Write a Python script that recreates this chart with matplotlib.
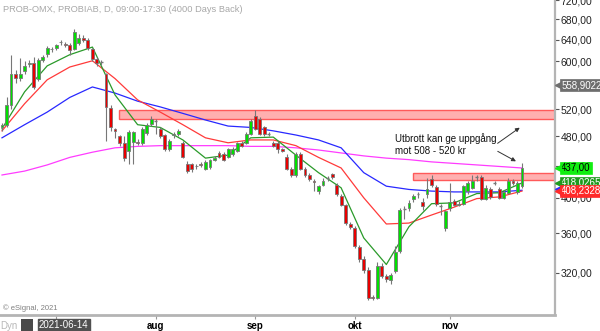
import matplotlib
matplotlib.use("Agg")
import matplotlib.pyplot as plt
from matplotlib.patches import Rectangle
from matplotlib.transforms import blended_transform_factory

plt.rcParams['font.family'] = ['Liberation Sans', 'DejaVu Sans']

# ---------------- data ----------------
opens = [494, 496, 527, 577, 571, 583, 596, 597, 570, 602, 613, 622, 624, 635, 632, 629, 622,
         634, 644, 640, 622, 604, 598, 577, 522, 490, 480, 471, 460, 472, 472, 471, 485, 498,
         503, 490, 482, 463, 482, 484, 471, 442, 442, 440, 442, 436, 438, 448, 457, 455, 452,
         455, 460, 471, 471, 484, 510, 506, 493, 484, 471, 471, 462, 452, 436, 428, 456, 436,
         428, 420, 408, 416, 424, 429, 416, 402, 392, 370, 366, 346, 333, 323, 298, 297, 327,
         317, 313, 322, 341, 387, 388, 398, 404, 395, 405, 423, 413, 390, 366, 388, 396, 392,
         393, 408, 412, 425, 426, 399, 411, 418, 410, 400, 406, 421, 407, 414]
highs = [500, 540, 611, 585, 606, 600, 602, 607, 606, 612, 628, 627, 632, 640, 636, 633, 660,
         650, 648, 643, 625, 607, 602, 580, 527, 492, 482, 481, 489, 488, 476, 494, 500, 510,
         506, 493, 484, 476, 487, 491, 474, 446, 444, 442, 445, 447, 449, 453, 459, 458, 464,
         465, 472, 474, 486, 505, 519, 508, 495, 487, 474, 473, 464, 455, 438, 458, 458, 438,
         430, 423, 416, 424, 427, 431, 418, 404, 393, 372, 368, 348, 336, 326, 300, 330, 329,
         319, 320, 347, 388, 390, 397, 405, 407, 400, 424, 428, 416, 393, 386, 418, 398, 396,
         416, 420, 428, 428, 428, 415, 413, 421, 413, 409, 424, 423, 420, 444]
lows = [488, 493, 520, 563, 566, 578, 590, 553, 566, 598, 607, 617, 620, 630, 626, 612, 620,
        630, 636, 620, 600, 592, 594, 474, 488, 478, 467, 446, 442, 442, 468, 468, 482, 495,
        484, 478, 460, 460, 478, 480, 450, 430, 432, 436, 438, 434, 436, 446, 450, 446, 450,
        453, 458, 465, 469, 482, 489, 482, 480, 480, 465, 457, 458, 434, 426, 426, 434, 425,
        421, 408, 404, 414, 421, 423, 402, 390, 369, 364, 345, 330, 320, 295, 295, 296, 315,
        311, 310, 320, 339, 375, 385, 395, 400, 386, 400, 413, 390, 380, 362, 385, 390, 390,
        391, 405, 410, 420, 397, 397, 399, 415, 398, 398, 404, 416, 405, 412]
closes = [496, 527, 577, 571, 578, 592, 597, 556, 602, 607, 624, 623, 629, 636, 630, 620, 654,
          644, 640, 624, 605, 597, 598, 524, 493, 488, 470, 450, 486, 487, 471, 490, 497, 506,
          503, 481, 463, 474, 484, 488, 452, 433, 436, 439, 441, 445, 447, 450, 452, 448, 462,
          462, 470, 467, 484, 503, 491, 484, 484, 484, 467, 463, 460, 436, 428, 456, 436, 428,
          423, 419, 414, 421, 424, 425, 404, 392, 371, 367, 347, 333, 323, 297, 297, 327, 317,
          314, 318, 340, 386, 387, 394, 402, 404, 390, 410, 416, 393, 390, 385, 395, 392, 393,
          414, 418, 420, 425, 399, 412, 401, 418, 400, 407, 421, 418, 418, 437]

# moving averages read at every 5th bar
ma_idx = [0, 5, 10, 15, 20, 25, 30, 35, 40, 45, 50, 55, 60, 65, 70, 75, 80, 85, 90, 95,
          100, 105, 110, 115]
ma_green = [491, 548, 592, 612, 626, 543, 497, 493, 475, 450, 454, 478, 479, 454, 431, 412,
            355, 328, 367, 393, 394, 405, 406, 418]
ma_red = [488, 529, 568, 590, 601, 570, 535, 516, 497, 478, 471, 475, 475, 467, 451, 437,
          400, 370, 371, 380, 389, 399, 401, 408]
ma_blue = [478, 497, 516, 539, 556, 546, 533, 524, 514, 504, 495, 493, 488, 482, 475, 464,
           431, 414, 410, 408, 407, 407, 407, 409]
ma_magenta = [428, 433, 441, 451, 458, 464, 466, 467, 467, 467, 467, 466, 466, 464, 461, 457,
              453, 450, 448, 445, 443, 441, 439, 437]

month_labels = ['', 'aug', 'sep', 'okt', 'nov']
month_start_idx = [12, 34, 56, 78, 99]
price_ticks = [320, 360, 400, 440, 480, 520, 560, 600, 640, 680, 720]

zones = [  # (start bar, low, high)
    (25.8, 506, 519),
    (90.9, 422, 430),
]
value_tags = [  # (value, text, face, text colour)
    (558.9022, '558,9022', '#6e6e6e', 'white'),
    (410.5, '409,5', '#2a2aff', 'white'),
    (418.0265, '418,0265', '#1e9a1e', 'white'),
    (408.23283, '408,23283', '#ff2a2a', 'white'),
    (437.00, '437,00', '#11ee11', 'black'),
]
note_text = 'Utbrott kan ge uppgång\nmot 508 - 520 kr'
note_pos = (86.9, 469)
arrow_from = [(109.1, 468), (109.1, 461)]
arrow_to = [(115.0, 495), (114.2, 444)]

# ---------------- figure ----------------
W, H = 600, 331
fig = plt.figure(figsize=(W / 100, H / 100), dpi=100)
ax = fig.add_axes([0, 16 / H, 555 / W, 315 / H])
ax.set_yscale('log')
ax.set_ylim(282.3, 720)
ax.set_xlim(-0.44, 122.3)

for s in ['left', 'top']:
    ax.spines[s].set_visible(False)
ax.spines['right'].set_color('#b4b4b4')
ax.spines['right'].set_linewidth(1.6)
ax.spines['bottom'].set_color('#b4b4b4')
ax.spines['bottom'].set_linewidth(2)

# zones
for start, lo, hi in zones:
    ax.add_patch(Rectangle((start, lo), 122.3 - start, hi - lo, facecolor='#ffb0b0',
                           edgecolor='#ff5a5a', lw=1.0, zorder=1))

# moving averages
ax.plot(ma_idx, ma_magenta, color='#ff3cff', lw=0.9, zorder=2)
ax.plot(ma_idx, ma_blue, color='#2828ff', lw=0.9, zorder=2)
ax.plot(ma_idx, ma_red, color='#ff3a3a', lw=0.9, zorder=2)
ax.plot(ma_idx, ma_green, color='#2a9a2a', lw=0.9, zorder=2)

# candles
n = len(closes)
bw = 0.64
for i in range(n):
    o, h, l, c = opens[i], highs[i], lows[i], closes[i]
    ax.vlines(i, l, h, color='#777777', lw=0.8, zorder=3)
    if c > o:
        fc = '#00e000'
    elif c < o:
        fc = '#e80000'
    else:
        fc = None
    if fc is None:
        ax.hlines(c, i - bw / 2, i + bw / 2, color='#777777', lw=1.0, zorder=4)
    else:
        ax.add_patch(Rectangle((i - bw / 2, min(o, c)), bw, abs(c - o), facecolor=fc,
                               edgecolor='#777777', lw=0.6, zorder=4))

# axes ticks
ax.yaxis.tick_right()
ax.yaxis.set_minor_locator(matplotlib.ticker.NullLocator())
ax.set_yticks(price_ticks)
ax.set_yticklabels([f'{t:.2f}'.replace('.', ',') for t in price_ticks])
ax.tick_params(axis='y', which='major', length=3, width=0.8, color='#555555', pad=1,
               labelsize=7.5, labelcolor='#222222')
ax.set_xticks(month_start_idx)
ax.set_xticklabels(month_labels, fontweight='bold', fontsize=7)
ax.tick_params(axis='x', length=3, width=0.8, color='#999999', pad=1)

# value tags on right axis
tr = blended_transform_factory(ax.transAxes, ax.transData)
for val, txt, face, tc in value_tags:
    ax.text(1.011, val, txt, transform=tr, fontsize=7, color=tc, va='center', ha='left',
            clip_on=False, zorder=10,
            bbox=dict(boxstyle='square,pad=0.1', facecolor=face, edgecolor=face, lw=0.5))
    ax.plot([1.005], [val], marker='<', ms=4, color=face, transform=tr, clip_on=False, zorder=10)

# annotation
ax.text(note_pos[0], note_pos[1], note_text, fontsize=7, color='#111111', ha='left',
        va='center', linespacing=1.25, zorder=6)
for (x0, y0), (x1, y1) in zip(arrow_from, arrow_to):
    ax.annotate('', xy=(x1, y1), xytext=(x0, y0),
                arrowprops=dict(arrowstyle='-|>', color='#333333', lw=0.7, mutation_scale=6),
                zorder=6)

# header / footer texts
fig.text(3 / W, 1 - 10 / H, 'PROB-OMX, PROBIAB, D, 09:00-17:30 (4000 Days Back)',
         fontsize=6.7, color='#a8a8a8', va='center', ha='left')
fig.text(3 / W, 1 - 308 / H, '© eSignal, 2021', fontsize=5.5, color='#808080',
         va='center', ha='left')
fig.text(0 / W, 1 - 326 / H, 'Dyn', fontsize=7, color='#b8b8b8', va='center', ha='left')
fig.patches.append(Rectangle((21 / W, 0), 12 / W, 12 / H, transform=fig.transFigure,
                             facecolor='#4a4a4a', edgecolor='none', figure=fig))
fig.text(39 / W, 1 - 325 / H, '2021-06-14', fontsize=7, color='white', va='center', ha='left',
         bbox=dict(boxstyle='square,pad=0.15', facecolor='#505050', edgecolor='#505050'))

fig.savefig('out.png', dpi=100)
